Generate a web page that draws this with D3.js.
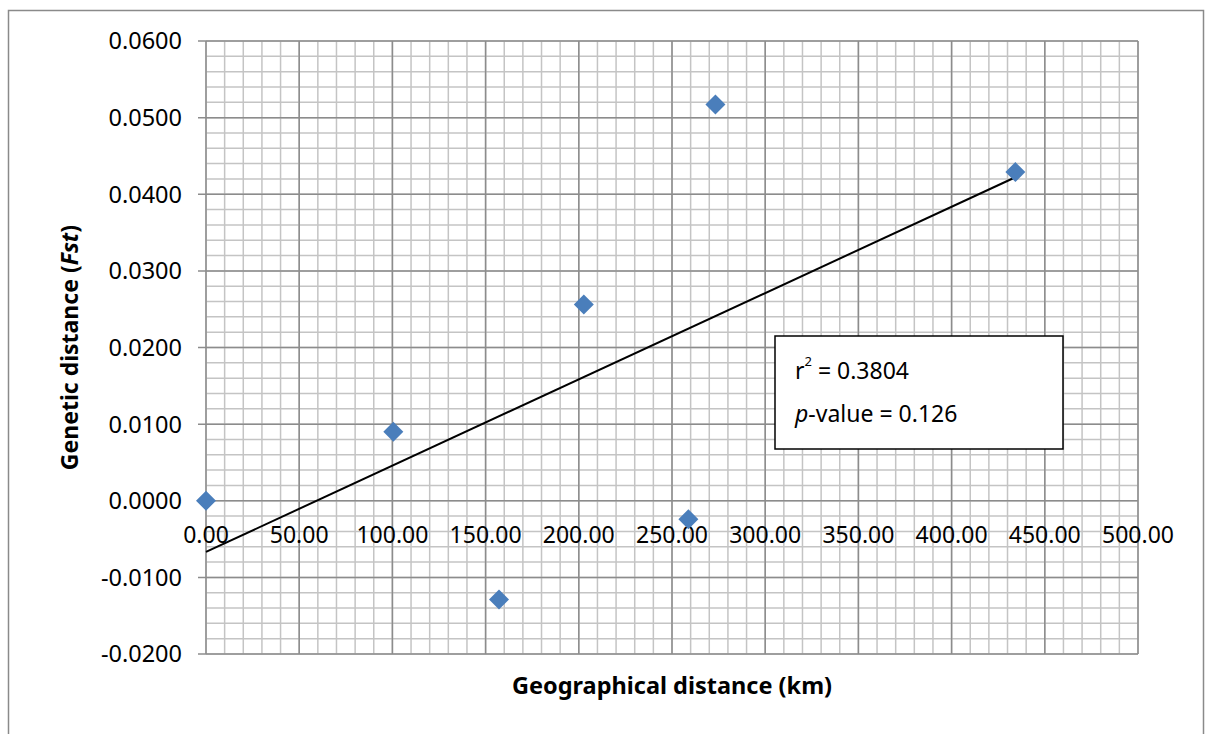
<!DOCTYPE html>
<html>
<head>
<meta charset="utf-8">
<script src="https://cdn.jsdelivr.net/npm/d3@7"></script>
<style>
  body { margin: 0; background: #fff; }
  text { font-family: "Noto Sans", sans-serif; fill: #000; }
</style>
</head>
<body>
<div id="chart"></div>
<script>
// pairwise distances
var geoDist = [0, 100.5, 157.2, 202.7, 258.8, 273.3, 434.2];
var fst     = [0.0000, 0.0090, -0.0129, 0.0256, -0.0024, 0.0517, 0.0429];

var xTicks = [0, 50, 100, 150, 200, 250, 300, 350, 400, 450, 500];
var yTicks = [-0.02, -0.01, 0, 0.01, 0.02, 0.03, 0.04, 0.05, 0.06];
var statLines = ["0.3804", "0.126"];

var width = 1208, height = 734;
// plot area edges (note: "top" is taken by window.top)
var pLeft = 206, pRight = 1138, pTop = 41, pBottom = 654;

// excel style labels use a plain hyphen for negatives
var loc = d3.formatLocale({decimal: ".", thousands: ",", grouping: [3], currency: ["", ""], minus: "-"});

var svg = d3.select("#chart").append("svg")
    .attr("width", width)
    .attr("height", height);

// outer chart border
svg.append("rect")
    .attr("x", 8.5).attr("y", 10.5)
    .attr("width", 1195).attr("height", 760)
    .attr("fill", "none")
    .attr("stroke", "#8a8a8a")
    .attr("stroke-width", 1.5);

var x = d3.scaleLinear().domain([0, 500]).range([pLeft, pRight]);
var y = d3.scaleLinear().domain([-0.02, 0.06]).range([pBottom, pTop]);

// minor grid (5 per major)
var minorX = d3.range(0, 501, 10);
var minorY = d3.range(-0.02, 0.0601, 0.002);

var grid = svg.append("g");
grid.selectAll(".mx").data(minorX).enter().append("line")
    .attr("x1", function(d) { return x(d); }).attr("x2", function(d) { return x(d); })
    .attr("y1", pTop).attr("y2", pBottom)
    .attr("stroke", "#c4c4c4").attr("stroke-width", 1.5);
grid.selectAll(".my").data(minorY).enter().append("line")
    .attr("x1", pLeft).attr("x2", pRight)
    .attr("y1", function(d) { return y(d); }).attr("y2", function(d) { return y(d); })
    .attr("stroke", "#c4c4c4").attr("stroke-width", 1.5);

// major grid
grid.selectAll(".Mx").data(xTicks).enter().append("line")
    .attr("x1", function(d) { return x(d); }).attr("x2", function(d) { return x(d); })
    .attr("y1", pTop).attr("y2", pBottom)
    .attr("stroke", "#8c8c8c").attr("stroke-width", 1.5);
grid.selectAll(".My").data(yTicks).enter().append("line")
    .attr("x1", pLeft - 8).attr("x2", pRight)
    .attr("y1", function(d) { return y(d); }).attr("y2", function(d) { return y(d); })
    .attr("stroke", "#8c8c8c").attr("stroke-width", 1.5);

// y axis labels
svg.append("g").selectAll("text").data(yTicks).enter().append("text")
    .attr("x", 182)
    .attr("y", function(d) { return y(d); })
    .attr("dy", "0.36em")
    .attr("text-anchor", "end")
    .style("font-size", "23.5px")
    .text(function(d) { return loc.format(".4f")(d); });

// x axis labels sit on the zero line
svg.append("g").selectAll("text").data(xTicks).enter().append("text")
    .attr("x", function(d) { return x(d); })
    .attr("y", y(0) + 42)
    .attr("text-anchor", "middle")
    .style("font-size", "23px")
    .text(function(d) { return loc.format(".2f")(d); });

// trendline (least squares)
var mx = d3.mean(geoDist), my = d3.mean(fst);
var sxy = d3.sum(geoDist, function(d, i) { return (d - mx) * (fst[i] - my); });
var sxx = d3.sum(geoDist, function(d) { return (d - mx) * (d - mx); });
var slope = sxy / sxx, icept = my - slope * mx;
var x0 = 0, x1 = d3.max(geoDist);

svg.append("line")
    .attr("x1", x(x0)).attr("y1", y(icept + slope * x0))
    .attr("x2", x(x1)).attr("y2", y(icept + slope * x1))
    .attr("stroke", "#000").attr("stroke-width", 2);

// diamond markers
svg.append("g").selectAll("path").data(geoDist).enter().append("path")
    .attr("transform", function(d, i) { return "translate(" + x(d) + "," + y(fst[i]) + ")"; })
    .attr("d", "M0,-10L10,0L0,10L-10,0Z")
    .attr("fill", "#4a7ebb");

// stats box
var box = svg.append("g");
box.append("rect")
    .attr("x", 775).attr("y", 336)
    .attr("width", 288).attr("height", 113)
    .attr("fill", "#fff")
    .attr("stroke", "#000").attr("stroke-width", 1.5);

var t1 = box.append("text").attr("x", 795).attr("y", 379).style("font-size", "23px");
t1.append("tspan").text("r");
t1.append("tspan").attr("dy", -13).style("font-size", "13px").text("2");
t1.append("tspan").attr("dy", 13).text(" = " + statLines[0]);

var t2 = box.append("text").attr("x", 795).attr("y", 422).style("font-size", "23px");
t2.append("tspan").style("font-style", "italic").text("p");
t2.append("tspan").text("-value = " + statLines[1]);

// axis titles
svg.append("text")
    .attr("x", (pLeft + pRight) / 2).attr("y", 694)
    .attr("text-anchor", "middle")
    .style("font-size", "23.5px").style("font-weight", "bold")
    .text("Geographical distance (km)");

var yt = svg.append("text")
    .attr("transform", "translate(78," + ((pTop + pBottom) / 2) + ") rotate(-90)")
    .attr("text-anchor", "middle")
    .style("font-size", "23px").style("font-weight", "bold");
yt.append("tspan").text("Genetic distance (");
yt.append("tspan").style("font-style", "italic").text("Fst");
yt.append("tspan").text(")");
</script>
</body>
</html>
